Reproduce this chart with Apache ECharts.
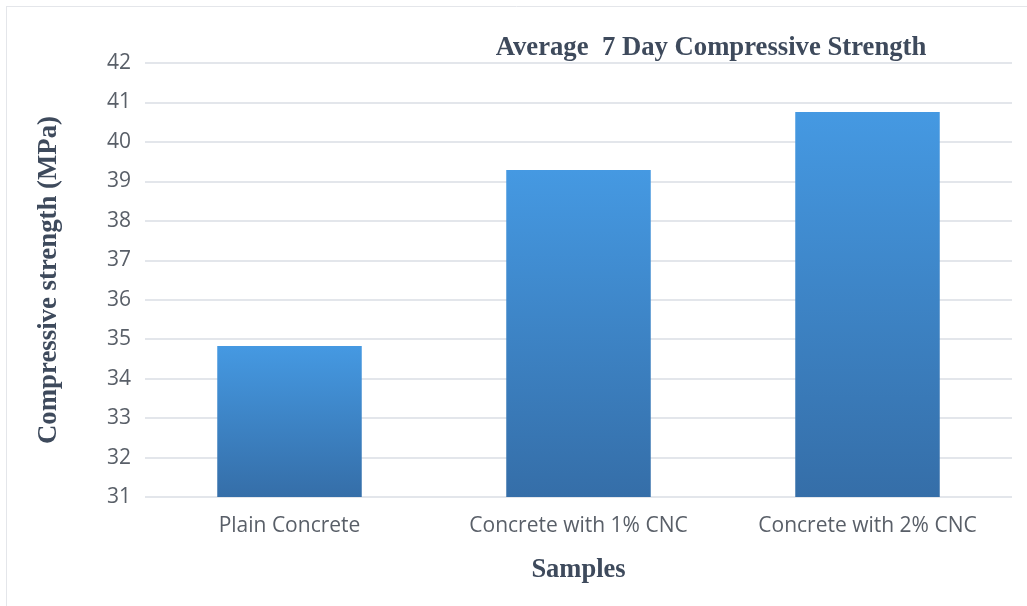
<!DOCTYPE html>
<html><head><meta charset="utf-8">
<script src="https://cdn.jsdelivr.net/npm/echarts@6/dist/echarts.min.js"></script>
<style>html,body{margin:0;padding:0;background:#fff}#c{width:1027px;height:606px}</style>
</head><body><div id="c"></div>
<script>
const categories = ['Plain Concrete', 'Concrete with 1% CNC', 'Concrete with 2% CNC'];
const strengthValues = [34.83, 39.29, 40.76];
const yTicks = {min: 31, max: 42, interval: 1};

const chart = echarts.init(document.getElementById('c'), null, {renderer: 'canvas'});
const serif = '"Liberation Serif", "DejaVu Serif", serif';
const sans = '"Open Sans", "Noto Sans", sans-serif';
chart.setOption({
  animation: false,
  backgroundColor: '#ffffff',
  title: {
    text: 'Average  7 Day Compressive Strength',
    left: 706, top: 30, textAlign: 'center',
    textStyle: {fontFamily: serif, fontWeight: 'bold', fontSize: 26.7, color: '#3e4a5c'}
  },
  graphic: [
    {type: 'line', shape: {x1: 6, y1: 6.5, x2: 1027, y2: 6.5}, style: {stroke: '#e4e6ea', lineWidth: 1}},
    {type: 'line', shape: {x1: 6.5, y1: 6, x2: 6.5, y2: 606}, style: {stroke: '#e4e6ea', lineWidth: 1}}
  ],
  grid: {left: 145, right: 15, top: 63, bottom: 109, containLabel: false},
  xAxis: {
    type: 'category', data: categories,
    name: 'Samples', nameLocation: 'middle', nameGap: 60,
    nameTextStyle: {fontFamily: serif, fontWeight: 'bold', fontSize: 26.5, color: '#3e4a5c'},
    axisLine: {show: false}, axisTick: {show: false},
    axisLabel: {fontFamily: sans, fontSize: 21, color: '#595f68', margin: 19}
  },
  yAxis: {
    type: 'value', min: yTicks.min, max: yTicks.max, interval: yTicks.interval,
    name: 'Compressive strength (MPa)', nameLocation: 'middle', nameGap: 82, nameRotate: 90,
    nameTextStyle: {fontFamily: serif, fontWeight: 'bold', fontSize: 26.8, color: '#3e4a5c'},
    axisLine: {show: false}, axisTick: {show: false},
    axisLabel: {fontFamily: sans, fontSize: 21, color: '#595f68', margin: 14},
    splitLine: {lineStyle: {color: '#e3e6eb', width: 2}}
  },
  series: [{
    type: 'bar', data: strengthValues, barWidth: '50%',
    itemStyle: {
      color: new echarts.graphic.LinearGradient(0, 0, 0, 1, [
        {offset: 0, color: '#4599e2'},
        {offset: 1, color: '#356ea8'}
      ])
    }
  }]
});
</script></body></html>
